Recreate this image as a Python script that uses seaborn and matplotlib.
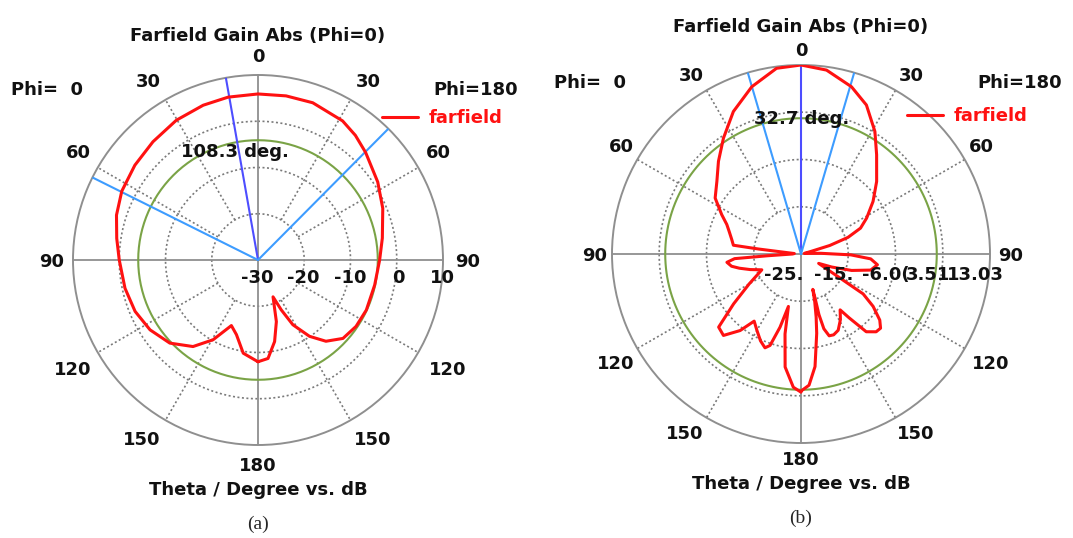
import numpy as np
import matplotlib
matplotlib.use("Agg")
import matplotlib.pyplot as plt
import seaborn as sns

sns.set_style("white")
plt.rcParams['font.family'] = ['DejaVu Sans']

# ---- (a) farfield cut, theta in deg (negative = Phi=0 side), gain in dB
theta_a = [-180, -171, -163.9, -157.9, -150.6, -143.1, -133.3, -122.9, -112.7, -102,
           -90, -81.3, -72.4, -63.2, -52.4, -41.6, -30.3, -19.5, -10.4, 0,
           9.7, 19.2, 31.3, 38, 45, 56.9, 67.5, 80, 90, 102.1,
           114.8, 124.1, 132.7, 140.1, 146, 151.7, 155, 157.8, 163.4, 168.5,
           174.2, 180]
gain_a = [-8.0, -9.6, -13.2, -14.7, -10.2, -6.6, -3.8, -2.2, -1.2, -0.6,
          0.0, 0.9, 2.1, 3.0, 3.6, 4.2, 5.0, 5.5, 5.8, 5.9,
          6.0, 6.0, 5.2, 4.2, 2.9, 0.9, -0.8, -2.7, -3.7, -4.2,
          -4.2, -4.4, -5.0, -7.1, -10.1, -14.1, -18.1, -21.4, -16.1, -12.0,
          -8.6, -8.0]
green_a = -4.1
main_a = -10.0
beam_a = [-63.5, 44.8]
rlim_a = (-30, 10)
rings_a = [-20, -10, 0]
rlabels_a = ["-30", "-20", "-10", "0", "10"]

# ---- (b) farfield cut
theta_b = [-180, -176.7, -172, -168.7, -166.5, -164, -161.3, -159, -155, -150,
           -145.1, -141.5, -136.4, -131.6, -126.5, -120, -112, -107, -103, -100,
           -96.4, -94, -93, -90, -86, -84, -83.3, -82.6, -78, -72,
           -68.3, -63.6, -56.9, -49.2, -41.7, -33.8, -25.4, -16.4, -7.5, 0,
           7.9, 16.8, 23.7, 31.1, 37.3, 46.2, 53.9, 61.3, 66.5, 70.5,
           73.5, 75.5, 80, 88, 91, 94, 98, 103, 108, 113,
           118, 122.7, 126, 130, 133, 136, 140, 143, 145, 149,
           154, 158, 161, 163, 163.5, 162.5, 161.5, 164, 166.5, 168.8,
           172.9, 176.5, 180]
gain_b = [2.8, 1.85, -2.04, -8.6, -14.15, -9.67, -5.58, -4.78, -5.72, -7.26,
          -8.53, -5.32, -2.37, -2.84, -8.13, -12.95, -16.5, -14.29, -12.28, -10.81,
          -10.0, -11.61, -18.3, -23.3, -23.66, -21.38, -16.36, -11.28, -10.74, -9.74,
          -8.93, -7.19, -4.38, -2.64, -0.03, 3.05, 6.73, 10.08, 12.69, 13.03,
          12.36, 10.15, 7.74, 3.79, 0.11, -3.91, -7.06, -9.94, -11.94, -14.96,
          -18.97, -22.99, -24.33, -20.98, -14.96, -10.94, -9.47, -10.61, -14.29, -18.3,
          -20.98, -10.14, -7.06, -4.31, -3.11, -3.24, -4.58, -8.93, -11.28, -9.6,
          -7.93, -7.46, -7.59, -9.27, -12.28, -15.29, -17.5, -14.96, -11.94, -8.73,
          -2.17, 1.45, 2.58]
green_b = 2.32
main_b = 0.0
beam_b = [-16.35, 16.35]
rlim_b = (-25.0, 13.03)
rings_b = [-15.49, -5.98, 3.54]
rlabels_b = ["-25.", "-15.", "-6.0(", "3.51", "13.03"]

W, H = 1073, 538
fig = plt.figure(figsize=(W / 100, H / 100), dpi=100)


def fx(x):
    return x / W


def fy(y):
    return 1 - y / H


def polar_panel(cx, cy, R, theta, gain, rlim, rings, green, main, beam):
    ax = fig.add_axes([fx(cx - R), fy(cy + R), 2 * R / W, 2 * R / H], projection='polar')
    ax.set_theta_zero_location('N')
    ax.set_theta_direction(-1)
    ax.set_rlim(*rlim)
    ax.set_xticks([])
    ax.set_yticks([])
    ax.grid(False)
    ax.spines['polar'].set_color('#8f8f8f')
    ax.spines['polar'].set_linewidth(1.4)
    full = np.linspace(0, 2 * np.pi, 361)
    # dotted rings and spokes
    for rv in rings:
        ax.plot(full, [rv] * len(full), color='#7a7a7a', lw=1.2, ls=(0, (1.2, 1.5)), zorder=1)
    for a in [30, 60, 120, 150, -30, -60, -120, -150]:
        ax.plot([np.deg2rad(a)] * 2, [rings[0], rlim[1]], color='#7a7a7a', lw=1.2,
                ls=(0, (1.2, 1.5)), zorder=1)
    # solid axes
    for a in [0, 90, 180, -90]:
        ax.plot([np.deg2rad(a)] * 2, [rlim[0], rlim[1]], color='#8f8f8f', lw=1.3, zorder=1)
    # green reference ring
    ax.plot(full, [green] * len(full), color='#7aa346', lw=1.5, zorder=2)
    # beam direction and width
    ax.plot([np.deg2rad(main)] * 2, [rlim[0], rlim[1]], color='#4d4dff', lw=1.5, zorder=3)
    for b in beam:
        ax.plot([np.deg2rad(b)] * 2, [rlim[0], rlim[1]], color='#3d9cff', lw=1.5, zorder=3)
    sns.lineplot(x=np.deg2rad(theta), y=gain, ax=ax, sort=False, estimator=None,
                 color='#ff1111', lw=2.2, label='farfield', zorder=4)
    ax.set_rlim(*rlim)
    ax.set_xlabel('')
    ax.set_ylabel('')
    return ax


bold = dict(fontsize=13, fontweight='bold', ha='center', va='center', color='#111111')

panels = [
    dict(cx=258, cy=260, R=185, theta=theta_a, gain=gain_a, rlim=rlim_a, rings=rings_a,
         green=green_a, main=main_a, beam=beam_a, title_y=36,
         width_text='108.3 deg.', wt_pos=(235, 152), phi0=(47, 90), phi180=(476, 90),
         leg=(382, 118), rl=rlabels_a, rl_x=[257, 303, 350, 398, 442], rl_y=278,
         cap='(a)'),
    dict(cx=801, cy=254, R=189, theta=theta_b, gain=gain_b, rlim=rlim_b, rings=rings_b,
         green=green_b, main=main_b, beam=beam_b, title_y=27,
         width_text='32.7 deg.', wt_pos=(802, 119), phi0=(590, 83), phi180=(1020, 83),
         leg=(907, 116), rl=rlabels_b, rl_x=[784, 834, 886, 928, 975], rl_y=275,
         cap='(b)'),
]

for p in panels:
    ax = polar_panel(p['cx'], p['cy'], p['R'], p['theta'], p['gain'], p['rlim'],
                     p['rings'], p['green'], p['main'], p['beam'])
    ax.legend(loc='center left', bbox_to_anchor=(fx(p['leg'][0]), fy(p['leg'][1])),
              bbox_transform=fig.transFigure, frameon=False, handlelength=2.0,
              handletextpad=0.6, borderpad=0, borderaxespad=0, labelcolor='#ff1111',
              prop={'weight': 'bold', 'size': 13})
    cx, cy = p['cx'], p['cy']
    fig.text(fx(cx), fy(p['title_y']), 'Farfield Gain Abs (Phi=0)', **bold)
    # angle labels
    ang_pos = [('0', 0, -203), ('30', -110, -178), ('30', 110, -178),
               ('60', -180, -107), ('60', 180, -107), ('90', -206, 2), ('90', 210, 2),
               ('120', -185, 110), ('120', 190, 110), ('150', -116, 180),
               ('150', 115, 180), ('180', 0, 206)]
    for txt, ox, oy in ang_pos:
        fig.text(fx(cx + ox), fy(cy + oy), txt, **bold)
    fig.text(fx(p['phi0'][0]), fy(p['phi0'][1]), 'Phi=  0', **bold)
    fig.text(fx(p['phi180'][0]), fy(p['phi180'][1]), 'Phi=180', **bold)
    fig.text(fx(p['wt_pos'][0]), fy(p['wt_pos'][1]), p['width_text'], **bold)
    for txt, x in zip(p['rl'], p['rl_x']):
        fig.text(fx(x), fy(p['rl_y']), txt, **bold)
    fig.text(fx(cx), fy(cy + 230), 'Theta / Degree vs. dB', **bold)
    fig.text(fx(cx), fy(cy + 264), p['cap'], fontsize=14, ha='center', va='center',
             family='Liberation Serif')

fig.savefig('out.png', dpi=100, facecolor='white')
